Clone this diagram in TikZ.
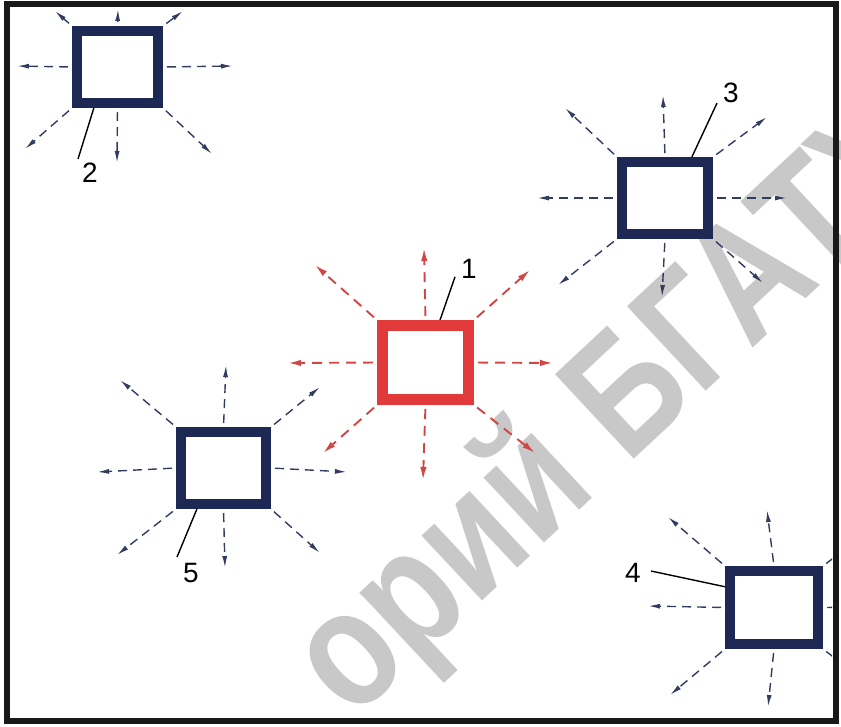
\documentclass[tikz,border=0pt]{standalone}
\usepackage{fontspec}
\setmainfont{Liberation Sans}
\usetikzlibrary{arrows.meta,calc}
\definecolor{navy}{RGB}{30,40,85}
\definecolor{navydash}{RGB}{50,60,95}
\definecolor{redbox}{RGB}{226,58,58}
\definecolor{reddash}{RGB}{210,70,70}
\definecolor{framecol}{RGB}{25,25,25}
\definecolor{wmgray}{RGB}{200,200,200}
\tikzset{
  navybox/.style={draw=navy, line width=10pt, inner sep=0pt},
  redbox/.style={draw=redbox, line width=11pt, inner sep=0pt},
  na/.style={draw=navydash, line width=1.4pt, dash pattern=on 9pt off 6pt,
    shorten <=4pt, -{Latex[length=12pt,width=5pt]}},
  ra/.style={draw=reddash, line width=1.9pt, dash pattern=on 10pt off 7pt,
    shorten <=4pt, -{Latex[length=13pt,width=6.5pt]}},
  leader/.style={draw=black, line width=1.4pt},
  lab/.style={font=\fontsize{28}{28}\selectfont, inner sep=0pt, text=black}
}
\begin{document}
\begin{tikzpicture}[x=1pt,y=-1pt]
\useasboundingbox (0,0) rectangle (841,726);
% watermark
\begin{scope}
\clip (0,0) rectangle (841,726);
\node[rotate=43, anchor=base west, text=wmgray, inner sep=0pt,
  font=\fontsize{168}{168}\selectfont\bfseries] (wm) at (352,722)
  {\scalebox{0.82}[1]{орий БГАТУ}};
\end{scope}
% frame
\draw[line width=6pt, framecol] (7,4) rectangle (836,721);
% boxes
\node[navybox, minimum width=81pt, minimum height=72pt] (b2) at (117.5,67) {};
\node[navybox, minimum width=86pt, minimum height=72pt] (b3) at (665,198) {};
\node[redbox, minimum width=86pt, minimum height=74pt] (b1) at (425.5,362.5) {};
\node[navybox, minimum width=85pt, minimum height=72pt] (b5) at (223.5,468) {};
\node[navybox, minimum width=88pt, minimum height=73pt] (b4) at (774,607.5) {};
% arrows box 2
\foreach \a/\x/\y [count=\i] in {north/118/9, north west/55/11, north east/183/11, west/17/66,
  east/233/66, south west/25/149, south/117/163, south east/212/154}
  \draw[na] (b2.\a) -- (\x,\y) coordinate (b2t\i);
% arrows box 3
\foreach \a/\x/\y [count=\i] in {north/663/95, north west/565/108, north east/767/117, west/537/198,
  east/787/198, south west/558/285, south/662/297, south east/763/283}
  \draw[na] (b3.\a) -- (\x,\y) coordinate (b3t\i);
% arrows box 1
\foreach \a/\x/\y [count=\i] in {north/424/248, north west/315/265, north east/530/270, west/288/363,
  east/553/363, south west/323/453, south/423/480, south east/535/453}
  \draw[ra] (b1.\a) -- (\x,\y) coordinate (b1t\i);
% arrows box 5
\foreach \a/\x/\y [count=\i] in {north/226/365, north west/120/380, north east/320/387, west/97/472,
  east/347/472, south west/117/555, south/225/568, south east/320/553}
  \draw[na] (b5.\a) -- (\x,\y) coordinate (b5t\i);
% arrows box 4
\foreach \a/\x/\y [count=\i] in {north/767/510, north west/668/517, west/648/606,
  south west/670/695, south/768/707}
  \draw[na] (b4.\a) -- (\x,\y) coordinate (b4t\i);
\begin{scope}
\clip (0,0) rectangle (832,726);
\foreach \a/\x/\y [count=\i] in {north east/870/530, east/880/607, south east/870/685}
  \draw[na] (b4.\a) -- (\x,\y) coordinate (b4s\i);
\end{scope}
% labels
\node[lab] (l2) at (90,173) {2};
\node[lab] (l3) at (731,93) {3};
\node[lab] (l1) at (469,269) {1};
\node[lab] (l5) at (191,573) {5};
\node[lab] (l4) at (633,573) {4};
\draw[leader] ($(b2.south west)!0.24!(b2.south east)$) -- ($(l2.north west)+(-4,-4)$);
\draw[leader] ($(b3.north west)!0.78!(b3.north east)$) -- ($(l3.south west)+(-6,0)$);
\draw[leader] ($(b1.north west)!0.65!(b1.north east)$) -- ($(l1.south west)+(-6,-2)$);
\draw[leader] ($(b5.south west)!0.22!(b5.south east)$) -- ($(l5.north west)+(-6,-6)$);
\draw[leader] ($(b4.north west)!0.25!(b4.south west)$) -- ($(l4.east)+(10,-2)$);
\end{tikzpicture}
\end{document}
